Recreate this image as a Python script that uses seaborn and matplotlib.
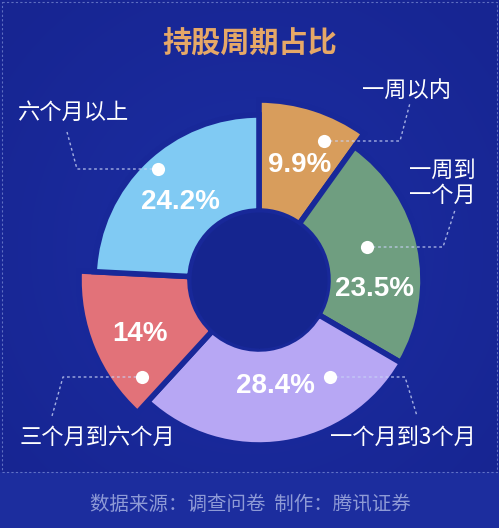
import numpy as np
import seaborn as sns
import matplotlib.pyplot as plt

# data
categories = ["一周以内", "一周到一个月", "一个月到3个月", "三个月到六个月", "六个月以上"]
shares = [9.9, 23.5, 28.4, 14.0, 24.2]
pct_labels = ["9.9%", "23.5%", "28.4%", "14%", "24.2%"]

# style
colors = ["#D89D5C", "#6F9E80", "#B7A7F4", "#E27279", "#80CAF3"]
outer_r = [180, 164, 165, 180, 165]   # pixel-ish radius of each ring piece
inner_r = 69
BG = "#1A2B9C"
GAP = "#182899"
HOLE = "#15258F"

# label layout (pixel coords, origin top-left)
pct_pos = [(300, 165), (375, 289), (275, 386), (140, 334), (180, 202)]
dot_pos = [(324, 141), (367, 247), (330, 377), (142, 377), (158, 169)]
leader_pts = [
    [(400, 141), (410, 103)],
    [(443, 247), (455, 210)],
    [(405, 377), (417, 416)],
    [(63, 377), (52, 416)],
    [(77, 169), (67, 132)],
]
cat_text = ["一周以内", "一周到\n一个月", "一个月到3个月", "三个月到六个月", "六个月以上"]
cat_pos = [(407, 90), (442, 183), (403, 437), (97, 437), (73, 112)]

sns.set_theme(style="white")
plt.rcParams["font.family"] = ["Noto Sans CJK SC", "DejaVu Sans"]

W, H = 499, 528
CX, CY = 259, 280
fig = plt.figure(figsize=(W / 100, H / 100), dpi=100)
fig.patch.set_facecolor(BG)

# background gradient (subtle)
bg_ax = fig.add_axes([0, 0, 1, 1], zorder=0)
yy, xx = np.mgrid[0:H, 0:W]
d = np.sqrt(((xx - 250) / 330.0) ** 2 + ((yy - 250) / 340.0) ** 2)
c_in = np.array([0x1C, 0x2E, 0xA3]) / 255
c_out = np.array([0x17, 0x25, 0x92]) / 255
t = np.clip(d, 0, 1)[..., None]
img = c_in * (1 - t) + c_out * t
img[472:, :, :] = np.array([0x1C, 0x2D, 0x9E]) / 255
bg_ax.imshow(img, extent=(0, W, H, 0), aspect="auto")
bg_ax.set_xlim(0, W)
bg_ax.set_ylim(H, 0)
bg_ax.axis("off")

# donut on polar axes
R = 200
pax = fig.add_axes([(CX - R) / W, (H - CY - R) / H, 2 * R / W, 2 * R / H],
                   projection="polar", zorder=1)
pax.set_theta_zero_location("N")
pax.set_theta_direction(-1)
angles = np.array(shares) / sum(shares) * 2 * np.pi
starts = np.concatenate([[0], np.cumsum(angles)[:-1]])
heights = [r - inner_r for r in outer_r]
pax.bar(starts, heights, width=angles, bottom=inner_r, align="edge",
        color=colors, edgecolor=GAP, linewidth=4)
# darker hole
theta = np.linspace(0, 2 * np.pi, 200)
pax.fill_between(theta, 0, inner_r - 1, color=HOLE, lw=0)
pax.set_ylim(0, R)
pax.set_facecolor("none")
pax.axis("off")

# overlay for labels
ov = fig.add_axes([0, 0, 1, 1], zorder=2)
ov.set_xlim(0, W)
ov.set_ylim(H, 0)
ov.axis("off")
ov.patch.set_alpha(0)

# dotted frame
frame_kw = dict(color="#8FA0E0", lw=0.8, ls=(0, (2, 2)), alpha=0.6)
ov.plot([2, W - 2, W - 2, 2, 2], [2, 2, 472, 472, 2], **frame_kw)

ov.text(250, 43, "持股周期占比", ha="center", va="center", fontsize=21,
        fontweight="bold", color="#E6A867")

for i in range(len(categories)):
    px, py = pct_pos[i]
    ov.text(px, py, pct_labels[i], ha="center", va="center", fontsize=20,
            fontweight="bold", color="white",
            family=["Liberation Sans", "DejaVu Sans"])
    dx, dy = dot_pos[i]
    xs = [dx] + [p[0] for p in leader_pts[i]]
    ys = [dy] + [p[1] for p in leader_pts[i]]
    ov.plot(xs, ys, color="#C8D2F5", lw=1, ls=(0, (2, 2)), alpha=0.8)
    ov.scatter([dx], [dy], s=90, color="white", zorder=5, linewidths=0)
    lx, ly = cat_pos[i]
    ov.text(lx, ly, cat_text[i], ha="center", va="center", fontsize=16,
            color="white", linespacing=1.1)

ov.text(250, 504, "数据来源：调查问卷  制作：腾讯证券", ha="center", va="center",
        fontsize=14, color="#8E9AD6")

fig.savefig("out.png", dpi=100, facecolor=BG)
